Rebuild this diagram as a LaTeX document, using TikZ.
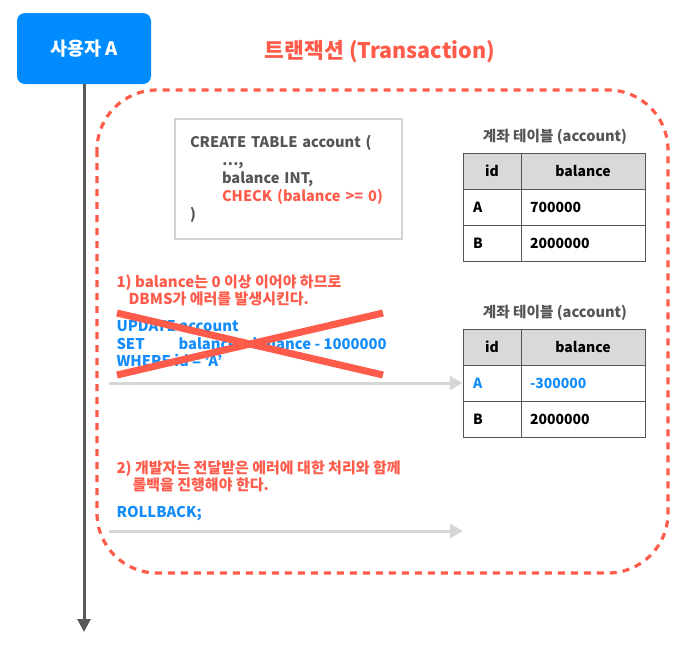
\documentclass[tikz,border=0pt]{standalone}
\usepackage{fontspec}
\setmainfont{Noto Sans CJK KR}
\usetikzlibrary{arrows.meta, positioning}

\definecolor{userblue}{RGB}{0,140,255}
\definecolor{sqlblue}{RGB}{20,140,250}
\definecolor{txred}{RGB}{255,91,75}
\definecolor{codegray}{RGB}{85,85,85}
\definecolor{boxgray}{RGB}{210,210,210}
\definecolor{headgray}{RGB}{217,217,217}
\definecolor{lifegray}{RGB}{90,90,90}
\definecolor{flowgray}{RGB}{214,214,214}

\tikzset{
  user/.style={fill=userblue, rounded corners=8pt, minimum width=134pt, minimum height=71pt, text=white, font=\fontsize{18.5}{21}\selectfont\bfseries},
  lifeline/.style={draw=lifegray, line width=3pt, -{Triangle[length=13pt,width=13pt]}},
  flow/.style={draw=flowgray, line width=3pt, -{Triangle[length=13pt,width=14pt]}},
  txbox/.style={draw=txred, line width=3.2pt, dash pattern=on 7pt off 6pt, rounded corners=60pt},
  codebox/.style={draw=boxgray, line width=2.5pt, minimum width=227pt, minimum height=120pt, inner xsep=15pt, text width=197pt, align=left, text=codegray, font=\fontsize{14.6}{18}\selectfont\bfseries},
  cell/.style={draw=codegray, line width=0.8pt, minimum height=36pt, inner sep=0pt, font=\fontsize{14}{16}\selectfont\bfseries},
  idcell/.style={cell, minimum width=58pt},
  balcell/.style={cell, minimum width=124pt},
  lcell/.style={inner xsep=10pt, text width=38pt, align=left},
  bcell/.style={inner xsep=9pt, text width=106pt, align=left},
  head/.style={fill=headgray},
  ttl/.style={text=codegray, font=\fontsize{14.6}{16}\selectfont\bfseries},
  note/.style={anchor=west, align=left, text=txred, font=\fontsize{15}{17}\selectfont\bfseries},
  sql/.style={anchor=west, align=left, text=sqlblue, font=\fontsize{14.8}{17.5}\selectfont\bfseries}
}

\begin{document}
\begin{tikzpicture}[x=1pt, y=-1pt]
\useasboundingbox (0,0) rectangle (693,657);

% user and lifeline
\node[user] (user) at (84,48.5) {사용자 A};
\coordinate (lifeend) at (84,632);
\draw[lifeline] (user.south) -- (lifeend);

% transaction
\node[text=txred, font=\fontsize{21.5}{24}\selectfont\bfseries] (title) at (380,52) {트랜잭션 (Transaction)};
\draw[txbox] (97,90) rectangle (668,573);

\node[codebox] (code) at (288.5,179) {CREATE TABLE account (\\
\hspace*{32pt}…,\\
\hspace*{32pt}balance INT,\\
\hspace*{32pt}\textcolor{txred}{CHECK (balance >= 0)}\\
)};

% table before
\node[ttl] (ttlA) at (555,137) {계좌 테이블 (account)};
\node[idcell, head] (hidA) at (492,171) {id};
\node[balcell, head] (hbalA) at (583,171) {balance};
\node[idcell, lcell] (idA1) at (492,207) {A};
\node[balcell, bcell] (balA1) at (583,207) {700000};
\node[idcell, lcell] (idA2) at (492,243) {B};
\node[balcell, bcell] (balA2) at (583,243) {2000000};

% step 1
\node[note] (note1) at (113,290) {1) balance는 0 이상 이어야 하므로\\
\hspace*{12pt}DBMS가 에러를 발생시킨다.};
\node[sql] (upd) at (113,344) {UPDATE account\\
\makebox[62pt][l]{SET}balance = balance - 1000000\\
WHERE id = 'A'};
\draw[txred, line width=7pt] (117,313) -- (383,375) (117,375) -- (383,313);

% table after
\node[ttl] (ttlB) at (555,313) {계좌 테이블 (account)};
\node[idcell, head] (hidB) at (492,347) {id};
\node[balcell, head] (hbalB) at (583,347) {balance};
\node[idcell, lcell, text=sqlblue] (idB1) at (492,383) {A};
\node[balcell, bcell, text=sqlblue] (balB1) at (583,383) {-300000};
\node[idcell, lcell] (idB2) at (492,419) {B};
\node[balcell, bcell] (balB2) at (583,419) {2000000};

\coordinate (upstart) at (109,383);
\draw[flow] (upstart) -- (idB1.west);

% step 2
\node[note] (note2) at (113,476) {2) 개발자는 전달받은 에러에 대한 처리와 함께\\
\hspace*{16pt}롤백을 진행해야 한다.};
\node[sql] (rb) at (113,514) {ROLLBACK;};
\coordinate (rbstart) at (109,531);
\coordinate (rbend) at (463,531);
\draw[flow] (rbstart) -- (rbend);
\end{tikzpicture}
\end{document}
